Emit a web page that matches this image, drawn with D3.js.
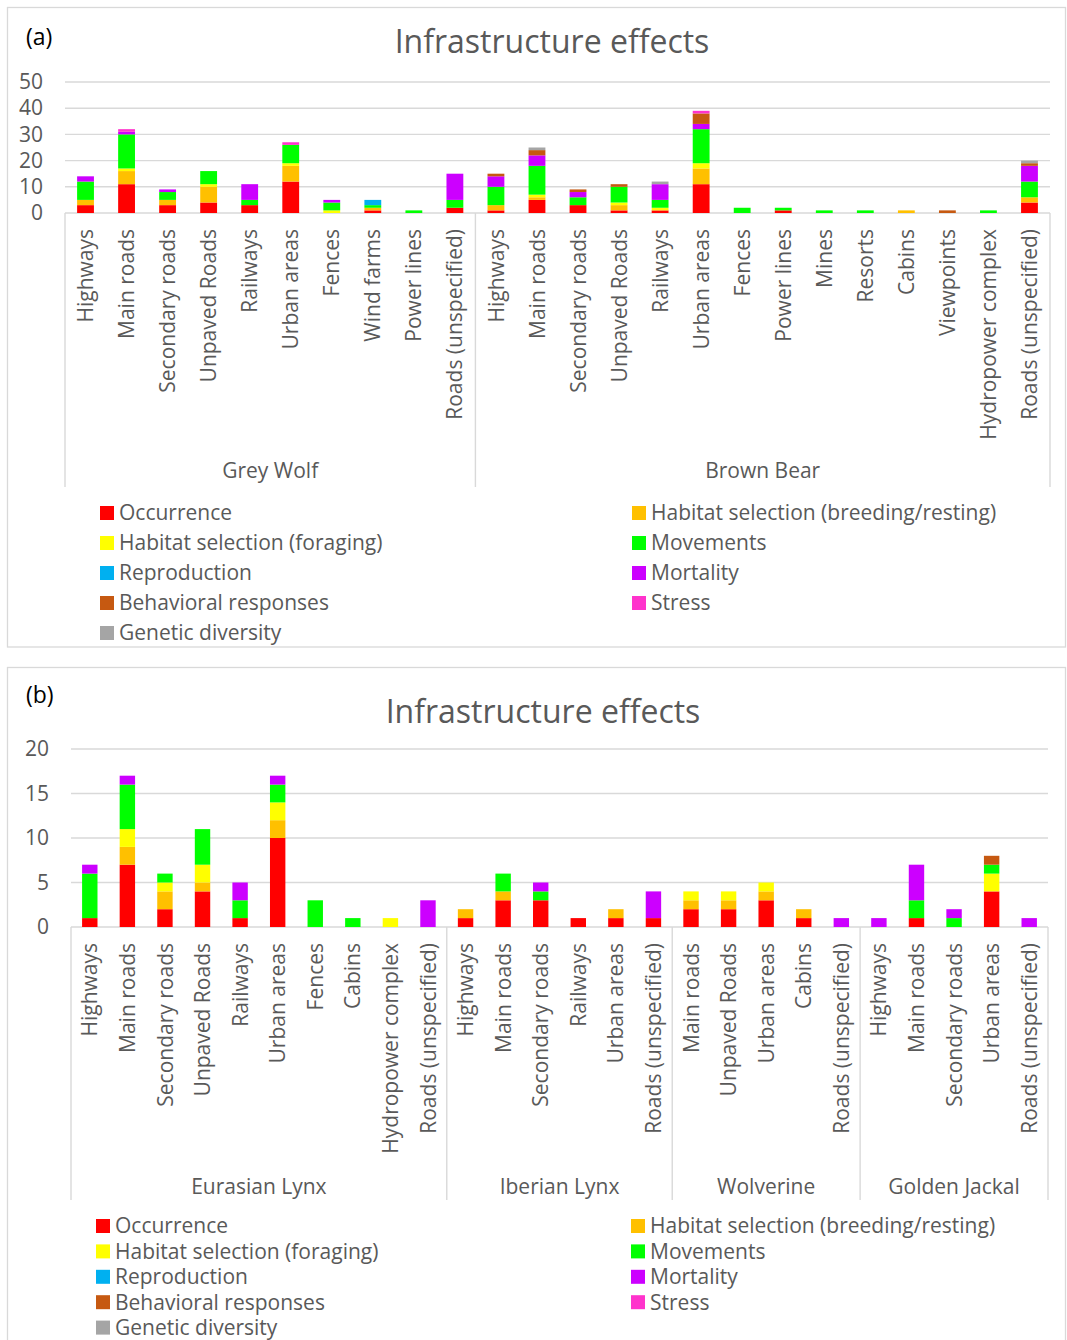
<!DOCTYPE html>
<html>
<head>
<meta charset="utf-8">
<script src="https://cdn.jsdelivr.net/npm/d3@7"></script>
<style>
  html, body { margin: 0; padding: 0; background: #fff; }
  svg { display: block; font-family: "Open Sans", Roboto, sans-serif; }
</style>
</head>
<body>
<svg id="chart" width="1067" height="1340"></svg>
<script>
// ---- Effect types (stack order, bottom to top) ----
const seriesNames = [
  "Occurrence", "Habitat selection (breeding/resting)", "Habitat selection (foraging)",
  "Movements", "Reproduction", "Mortality", "Behavioral responses", "Stress", "Genetic diversity"
];
const seriesColors = ["#ff0000", "#ffc000", "#ffff00", "#00ff00", "#00b0f0", "#cc00ff", "#c65911", "#ff33cc", "#a5a5a5"];

// ---- Panel (a): Grey Wolf and Brown Bear ----
const wolfCats = ["Highways", "Main roads", "Secondary roads", "Unpaved Roads", "Railways", "Urban areas",
  "Fences", "Wind farms", "Power lines", "Roads (unspecified)"];
const bearCats = ["Highways", "Main roads", "Secondary roads", "Unpaved Roads", "Railways", "Urban areas",
  "Fences", "Power lines", "Mines", "Resorts", "Cabins", "Viewpoints", "Hydropower complex", "Roads (unspecified)"];
const aTicks = [0, 10, 20, 30, 40, 50];

//                 Grey Wolf                        | Brown Bear
const aOccurrence   = [3, 11, 3, 4, 3, 12, 0, 1, 0, 2,   1, 5, 3, 1, 1, 11, 0, 1, 0, 0, 0, 0, 0, 4];
const aBreeding     = [2, 5, 2, 6, 0, 6, 0, 1, 0, 0,     2, 1, 0, 2, 0, 6, 0, 0, 0, 0, 1, 0, 0, 2];
const aForaging     = [0, 1, 0, 1, 0, 1, 1, 0, 0, 0,     0, 1, 0, 1, 1, 2, 0, 0, 0, 0, 0, 0, 0, 0];
const aMovements    = [7, 13, 3, 5, 2, 7, 3, 1, 1, 3,    7, 11, 3, 6, 3, 13, 2, 1, 1, 1, 0, 0, 1, 6];
const aReproduction = [0, 0, 0, 0, 0, 0, 0, 2, 0, 0,     0, 0, 0, 0, 0, 0, 0, 0, 0, 0, 0, 0, 0, 0];
const aMortality    = [2, 1, 1, 0, 6, 0, 1, 0, 0, 10,    4, 4, 2, 0, 6, 2, 0, 0, 0, 0, 0, 0, 0, 6];
const aBehavioral   = [0, 0, 0, 0, 0, 0, 0, 0, 0, 0,     1, 2, 1, 1, 0, 4, 0, 0, 0, 0, 0, 1, 0, 1];
const aStress       = [0, 1, 0, 0, 0, 1, 0, 0, 0, 0,     0, 0, 0, 0, 0, 1, 0, 0, 0, 0, 0, 0, 0, 0];
const aGenetic      = [0, 0, 0, 0, 0, 0, 0, 0, 0, 0,     0, 1, 0, 0, 1, 0, 0, 0, 0, 0, 0, 0, 0, 1];

// ---- Panel (b): Eurasian Lynx, Iberian Lynx, Wolverine, Golden Jackal ----
const eurLynxCats = ["Highways", "Main roads", "Secondary roads", "Unpaved Roads", "Railways", "Urban areas",
  "Fences", "Cabins", "Hydropower complex", "Roads (unspecified)"];
const ibLynxCats = ["Highways", "Main roads", "Secondary roads", "Railways", "Urban areas", "Roads (unspecified)"];
const wolverineCats = ["Main roads", "Unpaved Roads", "Urban areas", "Cabins", "Roads (unspecified)"];
const jackalCats = ["Highways", "Main roads", "Secondary roads", "Urban areas", "Roads (unspecified)"];
const bTicks = [0, 5, 10, 15, 20];

//                 Eurasian Lynx                   | Iberian Lynx      | Wolverine      | Golden Jackal
const bOccurrence   = [1, 7, 2, 4, 1, 10, 0, 0, 0, 0,  1, 3, 3, 1, 1, 1,   2, 2, 3, 1, 0,   0, 1, 0, 4, 0];
const bBreeding     = [0, 2, 2, 1, 0, 2, 0, 0, 0, 0,   1, 1, 0, 0, 1, 0,   1, 1, 1, 1, 0,   0, 0, 0, 0, 0];
const bForaging     = [0, 2, 1, 2, 0, 2, 0, 0, 1, 0,   0, 0, 0, 0, 0, 0,   1, 1, 1, 0, 0,   0, 0, 0, 2, 0];
const bMovements    = [5, 5, 1, 4, 2, 2, 3, 1, 0, 0,   0, 2, 1, 0, 0, 0,   0, 0, 0, 0, 0,   0, 2, 1, 1, 0];
const bReproduction = [0, 0, 0, 0, 0, 0, 0, 0, 0, 0,   0, 0, 0, 0, 0, 0,   0, 0, 0, 0, 0,   0, 0, 0, 0, 0];
const bMortality    = [1, 1, 0, 0, 2, 1, 0, 0, 0, 3,   0, 0, 1, 0, 0, 3,   0, 0, 0, 0, 1,   1, 4, 1, 0, 1];
const bBehavioral   = [0, 0, 0, 0, 0, 0, 0, 0, 0, 0,   0, 0, 0, 0, 0, 0,   0, 0, 0, 0, 0,   0, 0, 0, 1, 0];
const bStress       = [0, 0, 0, 0, 0, 0, 0, 0, 0, 0,   0, 0, 0, 0, 0, 0,   0, 0, 0, 0, 0,   0, 0, 0, 0, 0];
const bGenetic      = [0, 0, 0, 0, 0, 0, 0, 0, 0, 0,   0, 0, 0, 0, 0, 0,   0, 0, 0, 0, 0,   0, 0, 0, 0, 0];

const TEXT = "#595959";
const GRID = "#d9d9d9";
const FONT = "'Open Sans', Roboto, sans-serif";
const LABEL_SIZE = 21;

const svg = d3.select("#chart");

function drawPanel(cfg) {
  const g = svg.append("g");

  // outer frame
  g.append("rect")
    .attr("x", cfg.frame[0]).attr("y", cfg.frame[1])
    .attr("width", cfg.frame[2]).attr("height", cfg.frame[3])
    .attr("fill", "none").attr("stroke", GRID).attr("stroke-width", 1.3);

  g.append("text").attr("x", 26).attr("y", cfg.letterY)
    .attr("font-size", 23).attr("fill", "#000").text(cfg.letter);

  g.append("text").attr("x", cfg.titleX).attr("y", cfg.titleY)
    .attr("text-anchor", "middle").attr("font-size", 32).attr("fill", TEXT)
    .text("Infrastructure effects");

  // flatten group/category pairs into one band domain
  const rows = [];
  cfg.groups.forEach(grp => grp.cats.forEach(c => rows.push({ group: grp.name, cat: c, key: grp.name + "|" + c })));
  rows.forEach((r, i) => cfg.series.forEach((s, j) => { r[seriesNames[j]] = s[i]; }));

  const x = d3.scaleBand().domain(rows.map(r => r.key))
    .range([cfg.x0, cfg.x1]).paddingInner(0.59).paddingOuter(0.295);
  const y = d3.scaleLinear().domain([0, d3.max(cfg.ticks)]).range([cfg.yBase, cfg.yTop]);

  // horizontal gridlines
  g.append("g").selectAll("line").data(cfg.ticks).join("line")
    .attr("x1", cfg.x0).attr("x2", cfg.x1)
    .attr("y1", d => y(d)).attr("y2", d => y(d))
    .attr("stroke", GRID).attr("stroke-width", 1.4);

  // y-axis labels
  const yAxis = d3.axisLeft(y).tickValues(cfg.ticks).tickSize(0).tickPadding(0);
  const ya = g.append("g").attr("transform", `translate(${cfg.yLabelX},0)`).call(yAxis);
  ya.select(".domain").remove();
  ya.selectAll("text").attr("font-size", LABEL_SIZE).attr("fill", TEXT).attr("font-family", FONT);

  // stacked bars
  const stack = d3.stack().keys(seriesNames)(rows);
  g.append("g").selectAll("g").data(stack).join("g")
    .attr("fill", (d, i) => seriesColors[i])
    .selectAll("rect").data(d => d.filter(p => p[1] > p[0])).join("rect")
    .attr("x", d => x(d.data.key))
    .attr("width", x.bandwidth())
    .attr("y", d => y(d[1]))
    .attr("height", d => y(d[0]) - y(d[1]));

  // category axis labels
  const xAxis = d3.axisBottom(x).tickSize(0).tickFormat(k => k.split("|")[1]);
  const xa = g.append("g").attr("transform", `translate(0,${cfg.yBase})`).call(xAxis);
  xa.select(".domain").remove();
  xa.selectAll("text")
    .attr("font-size", LABEL_SIZE).attr("fill", TEXT).attr("font-family", FONT)
    .attr("text-anchor", "end")
    .attr("transform", `translate(0,${cfg.catLabelY - cfg.yBase}) rotate(-90)`)
    .attr("x", 0).attr("y", 0).attr("dy", "0.36em");

  // group dividers and names
  const bounds = [cfg.x0];
  let idx = 0;
  cfg.groups.forEach(grp => {
    const start = x(rows[idx].key) - x.step() * x.paddingOuter();
    idx += grp.cats.length;
    const end = x(rows[idx - 1].key) + x.bandwidth() + x.step() * x.paddingOuter();
    bounds.push(end);
    g.append("text").attr("x", (start + end) / 2).attr("y", cfg.groupLabelY)
      .attr("text-anchor", "middle").attr("font-size", LABEL_SIZE).attr("fill", TEXT).text(grp.name);
  });
  g.append("g").selectAll("line").data(bounds).join("line")
    .attr("x1", d => d).attr("x2", d => d)
    .attr("y1", cfg.yBase).attr("y2", cfg.dividerBottom)
    .attr("stroke", GRID).attr("stroke-width", 1.4);

  // legend, two columns
  const leg = g.append("g").selectAll("g").data(seriesNames).join("g")
    .attr("transform", (d, i) => `translate(${i % 2 === 0 ? cfg.legCol[0] : cfg.legCol[1]},${cfg.legY + Math.floor(i / 2) * cfg.legStep})`);
  leg.append("rect").attr("x", 0).attr("y", -7).attr("width", 14).attr("height", 14)
    .attr("fill", (d, i) => seriesColors[i]);
  leg.append("text").attr("x", 19).attr("y", 0).attr("dy", "0.35em")
    .attr("font-size", LABEL_SIZE).attr("fill", TEXT).text(d => d);
}

drawPanel({
  letter: "(a)", letterY: 45, titleX: 552, titleY: 53,
  frame: [7.5, 7.5, 1058, 639.5],
  groups: [{ name: "Grey Wolf", cats: wolfCats }, { name: "Brown Bear", cats: bearCats }],
  series: [aOccurrence, aBreeding, aForaging, aMovements, aReproduction, aMortality, aBehavioral, aStress, aGenetic],
  ticks: aTicks,
  x0: 65, x1: 1050, yTop: 82, yBase: 213, yLabelX: 43,
  catLabelY: 229, groupLabelY: 478, dividerBottom: 487,
  legCol: [100, 632], legY: 513, legStep: 30
});

drawPanel({
  letter: "(b)", letterY: 703, titleX: 543, titleY: 723,
  frame: [7.5, 667.5, 1058, 700],
  groups: [{ name: "Eurasian Lynx", cats: eurLynxCats }, { name: "Iberian Lynx", cats: ibLynxCats },
           { name: "Wolverine", cats: wolverineCats }, { name: "Golden Jackal", cats: jackalCats }],
  series: [bOccurrence, bBreeding, bForaging, bMovements, bReproduction, bMortality, bBehavioral, bStress, bGenetic],
  ticks: bTicks,
  x0: 71, x1: 1048, yTop: 749, yBase: 927, yLabelX: 49,
  catLabelY: 943, groupLabelY: 1194, dividerBottom: 1200,
  legCol: [96, 631], legY: 1226, legStep: 25.4
});
</script>
</body>
</html>
